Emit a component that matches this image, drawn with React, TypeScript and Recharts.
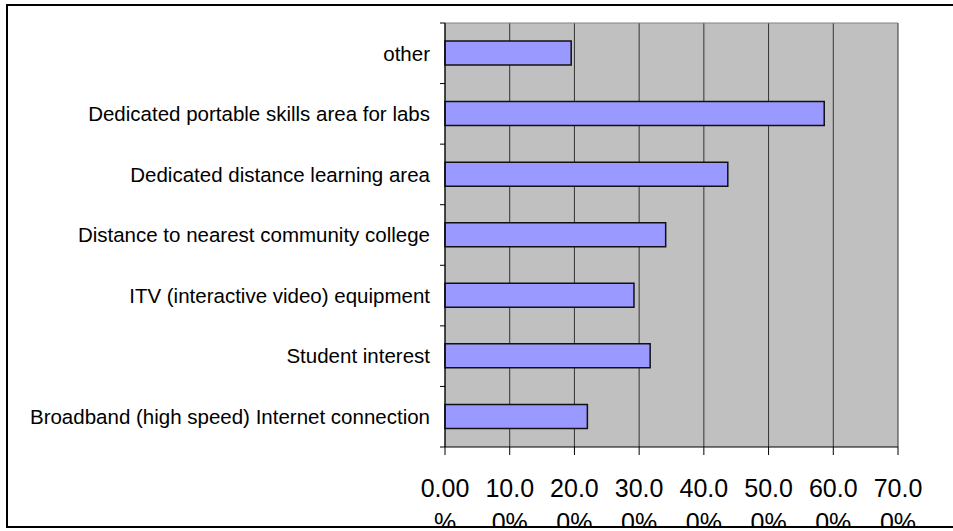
import React from "react";
import { BarChart, Bar, XAxis, YAxis, CartesianGrid } from "recharts";

const categories = [
  "other",
  "Dedicated portable skills area for labs",
  "Dedicated distance learning area",
  "Distance to nearest community college",
  "ITV (interactive video) equipment",
  "Student interest",
  "Broadband (high speed) Internet connection",
];
const percents = [19.5, 58.6, 43.7, 34.1, 29.2, 31.7, 22.0];
const xTicks = [0, 10, 20, 30, 40, 50, 60, 70];

const data = categories.map((name, i) => ({ name, value: percents[i] }));

const FONT = "'Liberation Sans', Arial, sans-serif";
const Y_TICK_GAP = 15;

// Excel wrapped "10.00%" into "10.0" / "0%" because the slot was narrow
const PercentTick = (props: any) => {
  const { x, y, payload } = props;
  const s = Number(payload.value).toFixed(2) + "%";
  const first = s.slice(0, 4);
  const second = s.slice(4);
  return (
    <text x={x} y={y + 40} textAnchor="middle" fontSize={25} fontFamily={FONT} fill="#000">
      <tspan x={x}>{first}</tspan>
      <tspan x={x} dy={34.4}>
        {second}
      </tspan>
    </text>
  );
};

// category label plus the little tick marks that sit between bands
const CategoryTick = (props: any) => {
  const { x, y, payload, index, visibleTicksCount } = props;
  const axisX = x + Y_TICK_GAP;
  const half = payload.offset || 0;
  return (
    <g>
      {half > 0 && (
        <line x1={axisX - 5} x2={axisX} y1={y - half} y2={y - half} stroke="#000" />
      )}
      {half > 0 && index === visibleTicksCount - 1 && (
        <line x1={axisX - 5} x2={axisX} y1={y + half} y2={y + half} stroke="#000" />
      )}
      <text
        x={x}
        y={y}
        dy="0.355em"
        textAnchor="end"
        fontSize={20.5}
        fontFamily={FONT}
        fill="#000"
      >
        {payload.value}
      </text>
    </g>
  );
};

const App = () => {
  return (
    <div
      style={{
        position: "absolute",
        left: 6,
        top: 4,
        width: 1000,
        height: 524,
        boxSizing: "border-box",
        border: "2px solid #000",
        overflow: "hidden",
        background: "#fff",
      }}
    >
      <BarChart
        width={945}
        height={520}
        data={data}
        layout="vertical"
        margin={{ top: 17, right: 55, left: 0, bottom: 0 }}
        barSize={24}
      >
        <CartesianGrid
          horizontal={false}
          fill="#C0C0C0"
          stroke="#333"
          strokeWidth={1}
        />
        <CartesianGrid
          vertical={false}
          stroke="#808080"
          horizontalCoordinatesGenerator={({ offset }: any) => [offset.top]}
        />
        <XAxis
          type="number"
          domain={[0, 70]}
          ticks={xTicks}
          interval={0}
          height={79}
          tickSize={8}
          tick={<PercentTick />}
          stroke="#000"
          axisLine={{ stroke: "#000" }}
        />
        <YAxis
          type="category"
          dataKey="name"
          width={437}
          interval={0}
          tickSize={0}
          tickMargin={Y_TICK_GAP}
          axisLine={{ stroke: "#000" }}
          tick={<CategoryTick />}
        />
        <Bar
          dataKey="value"
          fill="#9999FF"
          stroke="#111"
          strokeWidth={1.5}
          isAnimationActive={false}
        />
      </BarChart>
    </div>
  );
};

export default App;
